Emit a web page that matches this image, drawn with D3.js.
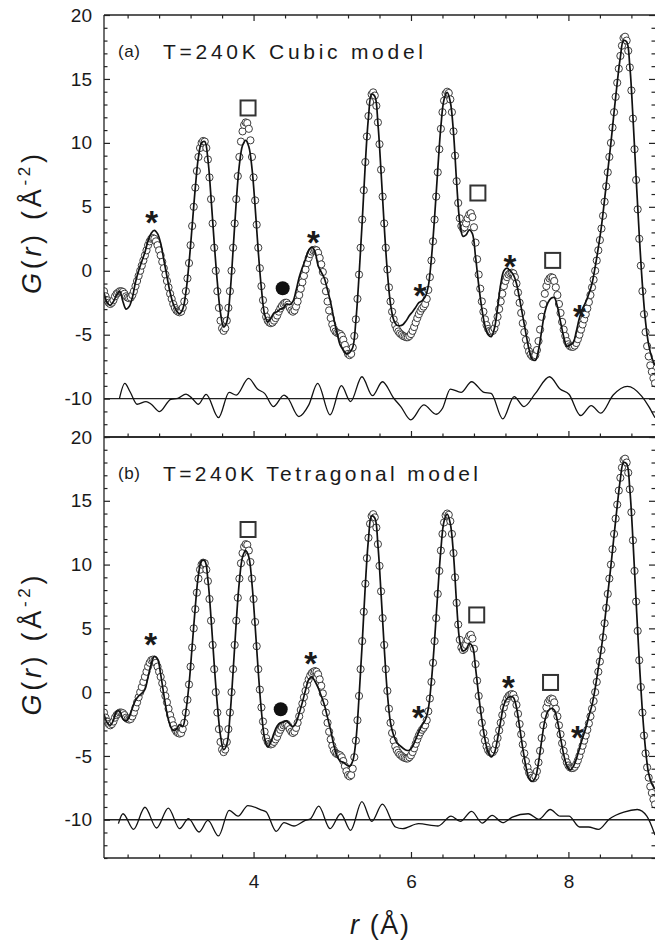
<!DOCTYPE html>
<html><head><meta charset="utf-8">
<script src="https://cdn.jsdelivr.net/npm/d3@7"></script>
<style>
body{margin:0;background:#fff}
svg{display:block}
text{font-family:"Liberation Sans",Arial,sans-serif;fill:#1a1a1a}
</style>
</head><body>
<svg id="chart" width="655" height="943"></svg>
<script>
// ---------- DATA ----------
// observed G(r), sampled every 0.02 Å starting at 2.10 Å (same data in both panels)
const obsStart = 2.10, obsStep = 0.02;
const gObs = [
-1.6,-2.0,-2.3,-2.5,-2.6,-2.5,-2.3,-2.0,-1.8,-1.7,
-1.6,-1.6,-1.65,-1.8,-2.0,-2.1,-2.15,-2.1,-1.9,-1.6,
-1.2,-0.8,-0.4,0.0,0.4,0.8,1.2,1.6,2.0,2.3,
2.5,2.55,2.5,2.3,2.0,1.6,1.2,0.7,0.2,-0.3,
-0.8,-1.3,-1.8,-2.2,-2.6,-2.9,-3.1,-3.2,-3.25,-3.2,
-2.9,-2.4,-1.6,-0.6,0.6,2.0,3.5,5.0,6.5,7.8,
8.9,9.6,10.0,10.15,10.1,9.6,8.7,7.3,5.6,3.7,
1.8,0.0,-1.6,-2.9,-3.9,-4.5,-4.7,-4.5,-3.9,-2.9,
-1.6,0.0,1.8,3.7,5.6,7.4,8.9,10.1,10.9,11.4,
11.6,11.55,11.1,10.2,8.9,7.3,5.5,3.6,1.8,0.2,
-1.2,-2.3,-3.1,-3.6,-3.9,-4.05,-4.1,-4.05,-3.9,-3.7,
-3.5,-3.2,-2.95,-2.75,-2.6,-2.5,-2.5,-2.65,-2.9,-3.1,
-3.2,-3.1,-2.8,-2.4,-1.9,-1.4,-0.9,-0.4,0.1,0.6,
1.0,1.3,1.5,1.6,1.65,1.6,1.4,1.0,0.5,-0.1,
-0.8,-1.6,-2.4,-3.1,-3.7,-4.2,-4.55,-4.75,-4.85,-4.9,
-4.95,-5.1,-5.4,-5.8,-6.2,-6.5,-6.6,-6.5,-6.0,-5.1,
-3.8,-2.2,-0.3,1.8,4.0,6.3,8.5,10.5,12.1,13.2,
13.8,13.95,13.7,12.9,11.6,9.9,7.9,5.8,3.7,1.8,
0.1,-1.3,-2.4,-3.2,-3.8,-4.25,-4.55,-4.75,-4.9,-5.0,
-5.1,-5.15,-5.2,-5.2,-5.1,-4.95,-4.7,-4.4,-4.05,-3.7,
-3.4,-3.15,-2.95,-2.8,-2.6,-2.2,-1.5,-0.5,0.8,2.3,
4.0,5.8,7.7,9.5,11.1,12.4,13.3,13.85,14.0,13.9,
13.4,12.4,10.9,9.0,7.0,5.3,4.1,3.5,3.3,3.4,
3.7,4.1,4.4,4.5,4.2,3.4,2.2,0.9,-0.3,-1.4,
-2.4,-3.2,-3.8,-4.25,-4.55,-4.7,-4.75,-4.7,-4.5,-4.1,
-3.6,-3.0,-2.4,-1.8,-1.2,-0.8,-0.5,-0.3,-0.2,-0.15,
-0.2,-0.5,-1.0,-1.7,-2.5,-3.3,-4.1,-4.8,-5.4,-5.9,
-6.3,-6.55,-6.7,-6.75,-6.6,-6.2,-5.5,-4.6,-3.6,-2.6,
-1.8,-1.2,-0.8,-0.6,-0.5,-0.55,-0.8,-1.3,-1.9,-2.6,
-3.3,-4.0,-4.6,-5.1,-5.5,-5.75,-5.9,-5.95,-5.95,-5.85,
-5.65,-5.35,-5.0,-4.6,-4.2,-3.8,-3.4,-2.95,-2.45,-1.9,
-1.3,-0.7,0.0,0.8,1.6,2.4,3.3,4.3,5.4,6.6,
7.7,8.9,10.0,11.2,12.4,13.6,14.7,15.8,16.8,17.6,
18.2,18.3,18.0,17.2,15.9,14.1,11.9,9.5,7.1,4.8,
2.5,0.4,-1.6,-3.4,-4.8,-5.9,-6.7,-7.4,-7.9,-8.4,
-8.8
];

// model fits, sampled every 0.04 Å starting at 2.10 Å
const fitStart = 2.10, fitStep = 0.04;
const gFitCubic = [
-1.7,-2.5,-2.7,-2.4,-1.9,-1.6,-2.4,-3.0,-2.8,-2.1,
-0.9,0.0,0.73,1.45,2.35,2.94,3.16,2.9,2.15,0.85,
-0.45,-1.7,-2.6,-3.12,-3.35,-3.0,-1.7,0.6,3.5,6.5,
8.9,10.0,10.1,8.7,5.7,2.2,-0.9,-3.3,-4.4,-4.0,
-1.9,1.6,5.4,8.3,9.8,10.2,9.7,8.0,5.0,1.5,
-1.4,-3.4,-4.0,-3.7,-3.3,-3.2,-3.0,-2.9,-2.6,-2.65,
-2.4,-1.55,-0.5,0.25,0.9,1.6,1.85,1.5,0.4,-0.1,
-0.6,-1.5,-2.5,-3.75,-4.85,-5.8,-6.2,-6.5,-6.4,-6.0,
-3.9,-0.4,3.8,8.4,12.0,13.8,13.65,11.5,7.7,3.5,
-0.1,-2.6,-3.84,-4.25,-4.3,-4.2,-3.9,-3.5,-3.2,-2.85,
-2.5,-2.35,-2.05,-1.2,1.0,4.2,7.9,11.3,13.4,13.95,
13.2,10.8,6.9,3.8,2.7,2.8,3.2,2.9,1.1,-1.1,
-2.95,-4.3,-5.0,-5.15,-4.5,-2.9,-1.05,0.0,0.2,0.0,
-0.3,-1.0,-2.2,-3.55,-4.9,-6.15,-6.9,-7.0,-6.2,-4.7,
-3.25,-2.5,-2.15,-2.1,-2.8,-4.0,-5.15,-5.9,-5.8,-5.65,
-4.75,-3.7,-2.95,-2.45,-1.8,-1.0,0.3,1.8,3.5,5.6,
7.8,10.0,12.4,14.7,16.7,18.0,17.9,16.0,12.0,7.3,
2.8,-1.1,-4.0,-5.8,-6.8,-7.4
];
const gFitTetra = [
-1.7,-2.4,-2.6,-2.2,-1.5,-1.5,-2.1,-2.25,-1.95,-1.25,
-0.65,-0.3,-0.1,0.22,1.2,2.2,2.8,2.6,1.4,-0.2,
-1.65,-2.6,-3.0,-2.9,-2.55,-2.7,-1.5,0.6,3.6,6.7,
9.2,10.3,10.3,8.8,5.8,2.2,-1.0,-3.4,-4.5,-4.1,
-1.9,1.6,5.5,8.7,10.6,11.1,10.6,8.5,5.2,1.6,
-1.5,-3.6,-4.3,-3.9,-3.2,-2.65,-2.4,-2.35,-2.25,-2.5,
-2.7,-2.4,-1.65,-0.8,0.15,0.97,1.2,0.85,0.35,-0.3,
-1.0,-2.0,-3.0,-4.15,-5.0,-5.4,-5.5,-5.7,-5.8,-5.4,
-3.8,-0.4,3.8,8.4,12.0,13.8,13.65,11.5,7.7,3.5,
-0.1,-2.4,-3.4,-3.95,-4.2,-4.4,-4.55,-4.55,-4.25,-3.7,
-3.1,-2.6,-2.2,-1.3,0.9,4.1,7.8,11.2,13.4,13.95,
13.2,10.8,6.9,4.0,3.25,3.35,3.8,3.6,1.9,-0.25,
-2.15,-3.7,-4.7,-5.08,-4.75,-3.65,-2.25,-1.0,-0.5,-0.35,
-0.4,-1.2,-2.75,-4.4,-5.8,-6.77,-7.0,-6.7,-5.53,-3.8,
-2.25,-1.5,-1.28,-1.4,-2.25,-3.58,-4.88,-5.78,-6.1,-5.85,
-5.25,-4.43,-3.6,-2.83,-1.88,-1.0,0.3,1.9,3.5,5.5,
7.7,9.9,12.3,14.6,16.7,18.0,17.9,15.9,11.9,7.1,
2.5,-1.5,-4.5,-6.4,-7.2,-7.6
];

// difference curves (obs - fit, offset to -10)
const diffCubicR = [2.296,2.364,2.431,2.521,2.634,2.701,2.804,2.948,3.038,3.142,3.218,3.299,3.398,3.555,3.690,3.780,3.937,4.050,4.140,4.252,4.387,4.432,4.576,4.702,4.814,4.972,5.116,5.233,5.376,5.511,5.637,5.781,5.871,5.997,6.163,6.320,6.401,6.500,6.636,6.770,6.928,7.018,7.166,7.310,7.436,7.580,7.760,7.894,8.007,8.155,8.290,8.411,8.569,8.749,8.930,9.020,9.100];
const diffCubicG = [-10.0,-8.81,-9.46,-10.44,-10.23,-10.44,-11.01,-10.05,-9.97,-9.64,-9.97,-10.44,-9.66,-11.48,-9.51,-9.72,-8.42,-9.25,-9.59,-10.62,-9.72,-9.92,-11.40,-10.49,-8.81,-11.27,-8.99,-10.23,-8.29,-9.77,-8.68,-9.97,-10.62,-11.66,-10.49,-11.22,-10.75,-9.25,-9.51,-8.68,-9.51,-9.59,-11.58,-9.84,-10.62,-9.59,-8.29,-9.25,-9.66,-11.32,-10.54,-11.14,-9.72,-9.04,-9.8,-10.6,-11.5];
const diffTetraR = [2.283,2.341,2.476,2.620,2.768,2.917,3.061,3.173,3.308,3.420,3.555,3.690,3.803,3.928,4.095,4.162,4.288,4.387,4.513,4.657,4.724,4.828,4.972,5.107,5.233,5.376,5.502,5.637,5.803,5.893,6.096,6.343,6.509,6.626,6.770,6.905,7.031,7.166,7.287,7.490,7.625,7.769,7.894,8.007,8.142,8.254,8.380,8.524,8.704,8.875,8.996,9.100];
const diffTetraG = [-10.31,-9.53,-10.75,-9.02,-10.65,-9.09,-10.70,-9.92,-10.96,-10.05,-11.27,-9.27,-9.72,-8.89,-9.22,-9.40,-10.91,-10.23,-10.49,-10.05,-9.92,-8.94,-10.70,-9.53,-10.83,-8.58,-10.13,-8.78,-10.57,-10.70,-10.31,-10.49,-9.72,-10.13,-9.35,-10.26,-9.66,-10.23,-9.79,-9.53,-9.97,-9.20,-9.72,-9.72,-10.57,-10.57,-10.75,-9.92,-9.40,-9.20,-9.72,-11.2];

// annotation symbols (data coordinates)
const starsCubicR = [2.706,4.76,6.115,7.258,8.14];
const starsCubicG = [4.36,2.80,-1.37,0.92,-3.01];
const squaresCubicR = [3.93,6.85,7.80];
const squaresCubicG = [12.73,6.08,0.81];
const dotCubic = [4.37,-1.37];
const starsTetraR = [2.693,4.726,6.093,7.237,8.113];
const starsTetraG = [4.34,2.84,-1.40,0.96,-2.96];
const squaresTetraR = [3.93,6.835,7.773];
const squaresTetraG = [12.75,6.05,0.76];
const dotTetra = [4.345,-1.34];

// ticks and labels
const yMajor = [20,15,10,5,0,-5,-10];
const yMinor = d3.range(-13,21).filter(v => v % 5 !== 0);
const xMajor = [4,6,8];
const xMinor = [2.4,2.8,3.2,3.6,4.4,4.8,5.2,5.6,6.4,6.8,7.2,7.6,8.4,8.8];
const panelLabels = ["(a)","(b)"];
const panelTitles = ["T=240K Cubic model","T=240K Tetragonal model"];

// ---------- DRAW ----------
const L = 104, R = 655;
const svg = d3.select("#chart");
const x = d3.scaleLinear().domain([2.1, 9.1]).range([L, R]);
const rObs = gObs.map((_, i) => obsStart + i * obsStep);
const rFit = gFitCubic.map((_, i) => fitStart + i * fitStep);

const panels = [
  {top:15, bottom:437, fit:gFitCubic, dR:diffCubicR, dG:diffCubicG, sR:starsCubicR, sG:starsCubicG, qR:squaresCubicR, qG:squaresCubicG, dot:dotCubic, titleLen:260, showX:false, topTicks:true},
  {top:437, bottom:858, fit:gFitTetra, dR:diffTetraR, dG:diffTetraG, sR:starsTetraR, sG:starsTetraG, qR:squaresTetraR, qG:squaresTetraG, dot:dotTetra, titleLen:315, showX:true, topTicks:false}
];

panels.forEach((p, i) => {
  const y = d3.scaleLinear().domain([-13, 20]).range([p.bottom, p.top]);
  const clipId = "clip" + i;
  svg.append("clipPath").attr("id", clipId).append("rect")
    .attr("x", L).attr("y", p.top).attr("width", R - L).attr("height", p.bottom - p.top);
  const plot = svg.append("g").attr("clip-path", `url(#${clipId})`);

  plot.append("line").attr("x1", L).attr("x2", R).attr("y1", y(-10)).attr("y2", y(-10))
    .attr("stroke", "#222").attr("stroke-width", 1.3);
  plot.append("path").datum(d3.zip(p.dR, p.dG))
    .attr("fill", "none").attr("stroke", "#111").attr("stroke-width", 1.3)
    .attr("d", d3.line().x(d => x(d[0])).y(d => y(d[1])).curve(d3.curveMonotoneX));
  plot.append("g").selectAll("circle").data(gObs).join("circle")
    .attr("cx", (d, j) => x(rObs[j])).attr("cy", d => y(d)).attr("r", 3.6)
    .attr("fill", "#fff").attr("stroke", "#333").attr("stroke-width", 0.95);
  plot.append("path").datum(d3.zip(rFit, p.fit))
    .attr("fill", "none").attr("stroke", "#111").attr("stroke-width", 1.7)
    .attr("d", d3.line().x(d => x(d[0])).y(d => y(d[1])).curve(d3.curveCatmullRom.alpha(0.5)));

  const ann = svg.append("g");
  ann.selectAll("text.star").data(p.sR).join("text").attr("class", "star")
    .attr("x", d => x(d)).attr("y", (d, j) => y(p.sG[j]) + 19)
    .attr("text-anchor", "middle").attr("font-size", 33).attr("font-weight", "bold").text("*");
  ann.selectAll("rect").data(p.qR).join("rect")
    .attr("x", d => x(d) - 7.5).attr("y", (d, j) => y(p.qG[j]) - 7.5)
    .attr("width", 15).attr("height", 15)
    .attr("fill", "none").attr("stroke", "#333").attr("stroke-width", 2);
  ann.append("circle").attr("cx", x(p.dot[0])).attr("cy", y(p.dot[1])).attr("r", 7).attr("fill", "#111");

  const styleAxis = g => {
    g.select(".domain").remove();
    g.selectAll(".tick line").attr("stroke", "#222").attr("stroke-width", 1.2);
    g.selectAll(".tick text").attr("font-size", 19).attr("fill", "#1a1a1a")
      .attr("font-family", '"Liberation Sans",Arial,sans-serif');
  };
  svg.append("g").attr("transform", `translate(${L},0)`)
    .call(d3.axisLeft(y).tickValues(yMajor).tickSize(-6).tickPadding(12).tickFormat(d => String(d))).call(styleAxis);
  svg.append("g").attr("transform", `translate(${L},0)`)
    .call(d3.axisLeft(y).tickValues(yMinor).tickSize(-3.5).tickFormat("")).call(styleAxis);
  svg.append("g").attr("transform", `translate(${R},0)`)
    .call(d3.axisRight(y).tickValues(yMajor).tickSize(-6).tickFormat("")).call(styleAxis);
  svg.append("g").attr("transform", `translate(${R},0)`)
    .call(d3.axisRight(y).tickValues(yMinor).tickSize(-3.5).tickFormat("")).call(styleAxis);
  svg.append("g").attr("transform", `translate(0,${p.bottom})`)
    .call(d3.axisBottom(x).tickValues(xMajor).tickSize(-6).tickPadding(16.5).tickFormat(p.showX ? (d => String(d)) : "")).call(styleAxis);
  svg.append("g").attr("transform", `translate(0,${p.bottom})`)
    .call(d3.axisBottom(x).tickValues(xMinor).tickSize(-3.5).tickFormat("")).call(styleAxis);
  if (p.topTicks) {
    svg.append("g").attr("transform", `translate(0,${p.top})`)
      .call(d3.axisTop(x).tickValues(xMajor).tickSize(-6).tickFormat("")).call(styleAxis);
    svg.append("g").attr("transform", `translate(0,${p.top})`)
      .call(d3.axisTop(x).tickValues(xMinor).tickSize(-3.5).tickFormat("")).call(styleAxis);
  }
  svg.append("line").attr("x1", L).attr("x2", L).attr("y1", p.top).attr("y2", p.bottom).attr("stroke", "#222").attr("stroke-width", 1.3);
  svg.append("line").attr("x1", L).attr("x2", R).attr("y1", p.top).attr("y2", p.top).attr("stroke", "#222").attr("stroke-width", 1.3);
  svg.append("line").attr("x1", L).attr("x2", R).attr("y1", p.bottom).attr("y2", p.bottom).attr("stroke", "#222").attr("stroke-width", 1.3);

  svg.append("text").attr("x", 118).attr("y", p.top + 42).attr("font-size", 17)
    .attr("textLength", 22).attr("lengthAdjust", "spacing").text(panelLabels[i]);
  svg.append("text").attr("x", 163).attr("y", p.top + 44).attr("font-size", 21)
    .attr("textLength", p.titleLen).attr("lengthAdjust", "spacing").text(panelTitles[i]);

  const cy = (p.top + p.bottom) / 2 - 2;
  const yt = svg.append("text").attr("transform", `translate(41,${cy}) rotate(-90)`)
    .attr("text-anchor", "middle").attr("font-size", 27)
    .attr("textLength", 140).attr("lengthAdjust", "spacing");
  yt.append("tspan").attr("font-style", "italic").text("G");
  yt.append("tspan").text("(");
  yt.append("tspan").attr("font-style", "italic").text("r");
  yt.append("tspan").text(") (Å");
  yt.append("tspan").attr("font-size", 17).attr("dy", -11).text("-2");
  yt.append("tspan").attr("dy", 11).text(")");
});

const xt = svg.append("text").attr("x", (L + R) / 2).attr("y", 934)
  .attr("text-anchor", "middle").attr("font-size", 27)
  .attr("textLength", 59).attr("lengthAdjust", "spacing");
xt.append("tspan").attr("font-style", "italic").text("r");
xt.append("tspan").text(" (Å)");
</script>
</body></html>
